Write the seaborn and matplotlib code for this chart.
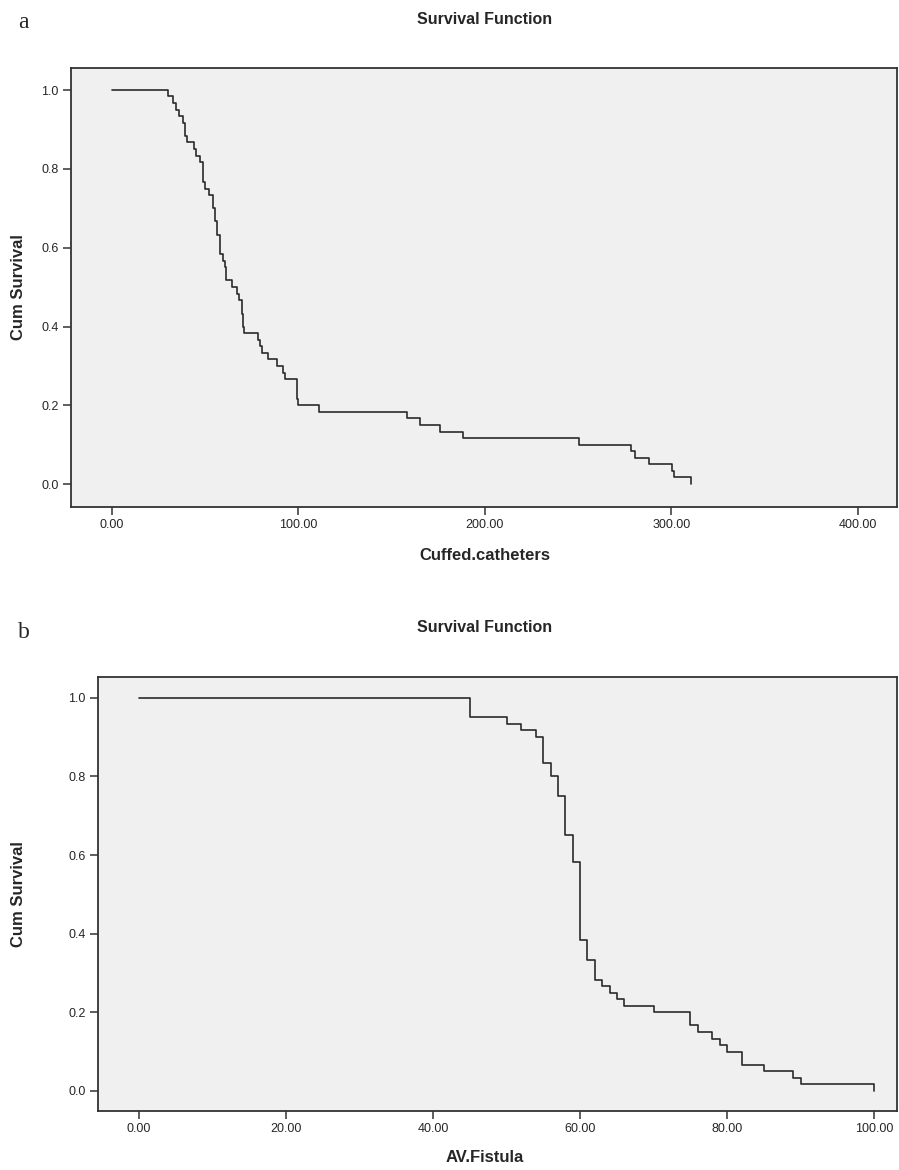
import matplotlib
matplotlib.use("Agg")
import matplotlib.pyplot as plt
import pandas as pd
import seaborn as sns

# Panel a: Cuffed catheters (times where survival drops, survival after drop)
cath_time = [0, 30.2, 32.9, 34.3, 36.1, 37.9, 39.1, 40.4, 44.0, 45.0, 47.2, 49.0, 49.9,
             52.2, 54.3, 55.1, 56.1, 57.9, 59.4, 60.6, 61.1, 64.2, 66.9, 68.2, 69.5,
             70.4, 70.8, 78.1, 79.4, 80.3, 83.8, 88.3, 91.9, 92.8, 99.0, 99.9, 111.2,
             158.3, 165.1, 175.7, 188.3, 250.3, 278.4, 280.3, 288.1, 300.4, 301.3, 310.5]
cath_surv = [1.0, 0.985, 0.968, 0.950, 0.933, 0.917, 0.883, 0.867, 0.850, 0.833, 0.817, 0.767, 0.750,
             0.733, 0.700, 0.667, 0.633, 0.583, 0.567, 0.550, 0.517, 0.500, 0.483, 0.467, 0.433,
             0.400, 0.383, 0.367, 0.350, 0.333, 0.317, 0.300, 0.283, 0.267, 0.217, 0.200, 0.183,
             0.167, 0.150, 0.133, 0.117, 0.100, 0.083, 0.067, 0.050, 0.033, 0.017, 0.0]

# Panel b: AV fistula
avf_time = [0, 45, 50, 52, 54, 55, 56, 57, 58, 59, 60, 61, 62, 63, 64, 65, 66, 70,
            75, 76, 78, 79, 80, 82, 85, 89, 90, 100]
avf_surv = [1.0, 0.950, 0.933, 0.917, 0.900, 0.833, 0.800, 0.750, 0.650, 0.583, 0.383, 0.333,
            0.283, 0.267, 0.250, 0.233, 0.217, 0.200, 0.167, 0.150, 0.133, 0.117, 0.100,
            0.067, 0.050, 0.033, 0.017, 0.0]

cath_ticks = [0, 100, 200, 300, 400]
avf_ticks = [0, 20, 40, 60, 80, 100]
y_ticks = [0.0, 0.2, 0.4, 0.6, 0.8, 1.0]

sns.set_style("white")
plt.rcParams['font.family'] = ['Liberation Sans Narrow', 'Liberation Sans', 'DejaVu Sans']

W, H = 899, 1170
fig = plt.figure(figsize=(W / 100, H / 100), dpi=100)

def px_axes(left, top, right, bottom):
    return fig.add_axes([left / W, 1 - bottom / H, (right - left) / W, (bottom - top) / H])

def panel(ax, t, s, xticks, xlim, ylim):
    df = pd.DataFrame({'t': t, 's': s})
    sns.lineplot(data=df, x='t', y='s', ax=ax, drawstyle='steps-post', estimator=None,
                 color='#2a2a2a', linewidth=1.2)
    ax.set_facecolor('#f0f0f0')
    ax.set_xlim(*xlim)
    ax.set_ylim(*ylim)
    ax.set_xticks(xticks)
    ax.set_xticklabels([f"{v:.2f}" for v in xticks])
    ax.set_yticks(y_ticks)
    ax.set_yticklabels([f"{v:.1f}" for v in y_ticks])
    ax.set_xlabel("")
    ax.set_ylabel("")
    ax.tick_params(direction='out', length=6, width=1.1, color='#333333',
                   labelsize=9, pad=3, bottom=True, left=True)
    for sp in ax.spines.values():
        sp.set_color('#333333')
        sp.set_linewidth(1.3)

ax1 = px_axes(71, 68, 897, 507)
panel(ax1, cath_time, cath_surv, cath_ticks, (-22, 421), (-0.058, 1.056))
ax2 = px_axes(98, 677, 897, 1111)
panel(ax2, avf_time, avf_surv, avf_ticks, (-5.58, 103.1), (-0.051, 1.053))

def ftext(x, y, s, **kw):
    fig.text(x / W, 1 - y / H, s, **kw)

ftext(18, 22, "a", fontsize=17, family='Liberation Serif', va='center', ha='left')
ftext(18, 633, "b", fontsize=17, family='Liberation Serif', va='center', ha='left')
ftext(485, 20, "Survival Function", fontsize=11.5, fontweight='bold', ha='center', va='center')
ftext(485, 628, "Survival Function", fontsize=11.5, fontweight='bold', ha='center', va='center')
ftext(485, 555, "Cuffed.catheters", fontsize=12, fontweight='bold', ha='center', va='center')
ftext(485, 1158, "AV.Fistula", fontsize=12, fontweight='bold', ha='center', va='center')
ftext(19, 287, "Cum Survival", fontsize=12, fontweight='bold', ha='center', va='center', rotation=90)
ftext(19, 894, "Cum Survival", fontsize=12, fontweight='bold', ha='center', va='center', rotation=90)

fig.savefig("out.png", dpi=100)
